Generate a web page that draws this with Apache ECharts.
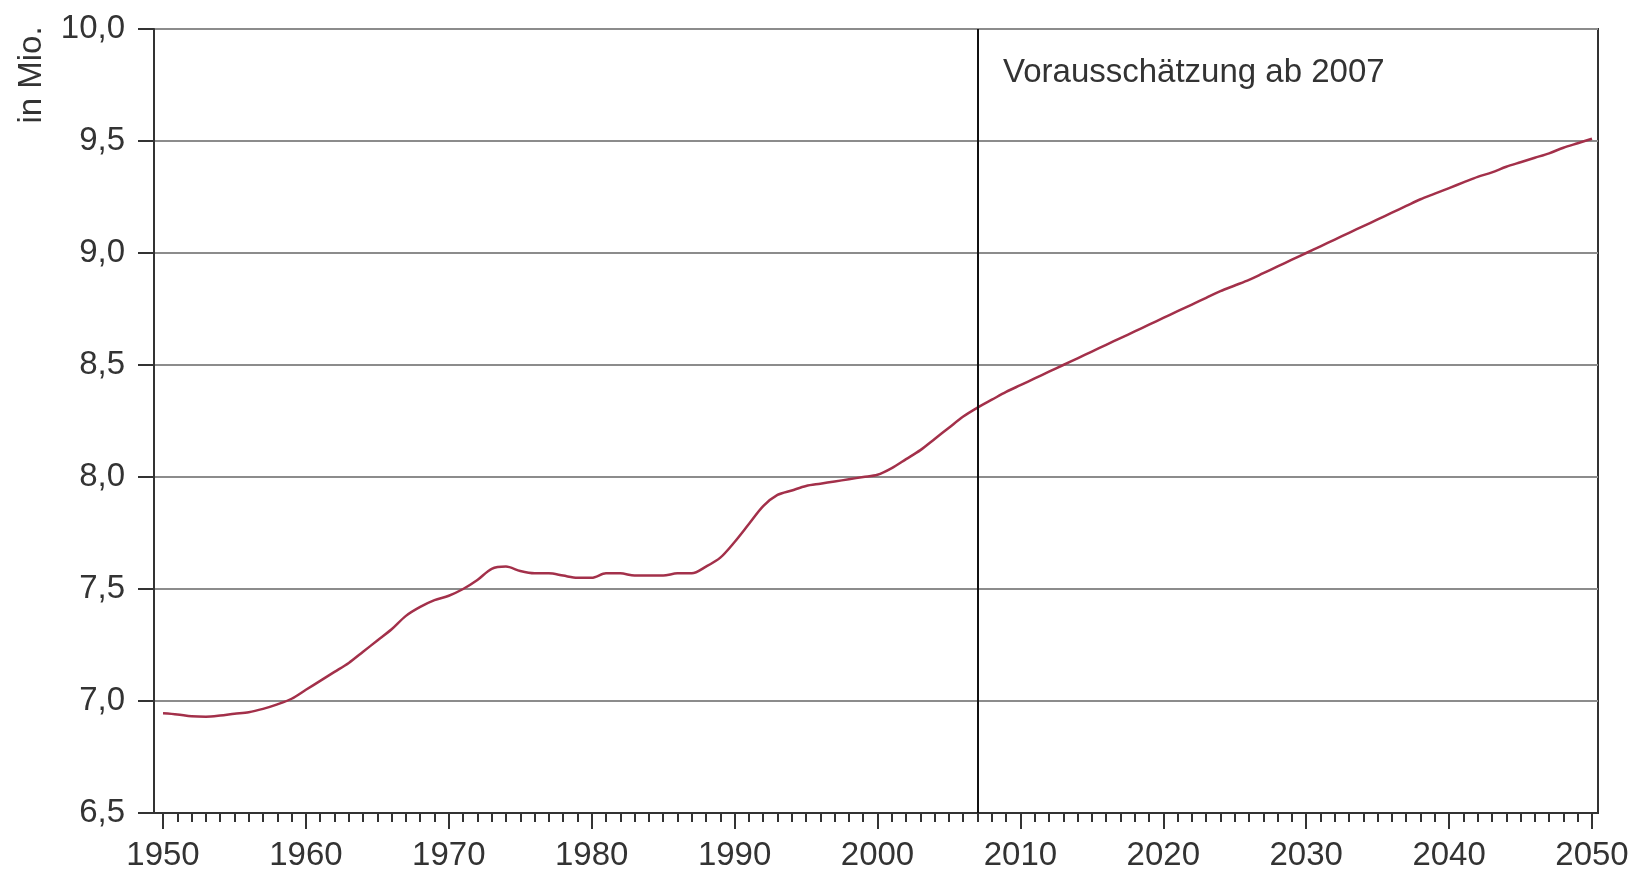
<!DOCTYPE html>
<html>
<head>
<meta charset="utf-8">
<script src="https://cdn.jsdelivr.net/npm/echarts@6/dist/echarts.min.js"></script>
<style>html,body{margin:0;padding:0;background:#fff}#c{width:1632px;height:870px}</style>
</head>
<body>
<div id="c"></div>
<script>
const startYear = 1950;
const endYear = 2050;
const population = [
  6.945, 6.94, 6.932, 6.93, 6.935, 6.943, 6.95, 6.965, 6.985, 7.01,
  7.05, 7.09, 7.13, 7.17, 7.22, 7.27, 7.32, 7.38, 7.42, 7.45,
  7.47, 7.50, 7.54, 7.59, 7.60, 7.58, 7.57, 7.57, 7.56, 7.55,
  7.55, 7.57, 7.57, 7.56, 7.56, 7.56, 7.57, 7.57, 7.60, 7.64,
  7.71, 7.79, 7.87, 7.92, 7.94, 7.96, 7.97, 7.98, 7.99, 8.00,
  8.01, 8.04, 8.08, 8.12, 8.17, 8.22, 8.27, 8.31, 8.345, 8.38,
  8.41, 8.44, 8.47, 8.50, 8.53, 8.56, 8.59, 8.62, 8.65, 8.68,
  8.71, 8.74, 8.77, 8.80, 8.83, 8.855, 8.88, 8.91, 8.94, 8.97,
  9.00, 9.03, 9.06, 9.09, 9.12, 9.15, 9.18, 9.21, 9.24, 9.265,
  9.29, 9.315, 9.34, 9.36, 9.385, 9.405, 9.425, 9.445, 9.47, 9.49,
  9.51
];
const years = [];
for (let y = startYear; y <= endYear; y++) years.push(y);
const xLabelYears = [1950, 1960, 1970, 1980, 1990, 2000, 2010, 2020, 2030, 2040, 2050];
const forecastStart = 2007;
const forecastLabel = 'Vorausschätzung ab 2007';
const yAxisName = 'in Mio.';

const FONT = 'Liberation Sans, Arial, sans-serif';
const FS = 33;
const chart = echarts.init(document.getElementById('c'), null, {renderer: 'canvas'});
const seriesData = years.map((y, i) => [y, population[i]]);
const xMin = 1949.37, xMax = 2050.42;

chart.setOption({
  animation: false,
  backgroundColor: '#fff',
  grid: {left: 154, right: 34, top: 29, bottom: 57, containLabel: false, outerBoundsMode: 'none',
    show: true, borderColor: '#333', borderWidth: 2, backgroundColor: 'transparent'},
  xAxis: [
    {
      type: 'value', min: xMin, max: xMax,
      axisLine: {show: true, lineStyle: {color: '#333', width: 2}},
      splitLine: {show: false},
      axisTick: {show: true, customValues: xLabelYears, length: 16, lineStyle: {color: '#333', width: 2}},
      axisLabel: {customValues: xLabelYears, fontSize: FS, color: '#333', margin: 26, fontFamily: FONT,
        formatter: v => String(Math.round(v))}
    },
    {
      type: 'value', min: xMin, max: xMax, position: 'bottom',
      axisLine: {show: false},
      splitLine: {show: false},
      axisTick: {show: true, customValues: years, length: 9, lineStyle: {color: '#333', width: 2}},
      axisLabel: {show: false}
    }
  ],
  yAxis: {
    type: 'value', min: 6.5, max: 10, interval: 0.5,
    axisLine: {show: true, lineStyle: {color: '#333', width: 2}},
    axisTick: {show: true, length: 16, lineStyle: {color: '#333', width: 2}},
    splitLine: {show: true, lineStyle: {color: '#8c8c8c', width: 2}},
    axisLabel: {fontSize: FS, color: '#333', margin: 29, fontFamily: FONT,
      formatter: v => v.toFixed(1).replace('.', ',')}
  },
  series: [{
    type: 'line',
    data: seriesData,
    showSymbol: false,
    smooth: 0.3,
    lineStyle: {color: '#a3304a', width: 2.5},
    markLine: {
      silent: true,
      symbol: 'none',
      label: {show: false},
      lineStyle: {color: '#111', width: 2, type: 'solid'},
      data: [{xAxis: forecastStart}]
    }
  }],
  graphic: [
    {type: 'text', x: 1003, y: 73, style: {text: forecastLabel, font: FS + 'px ' + FONT, fill: '#333', verticalAlign: 'middle', align: 'left'}},
    {type: 'text', x: 32, y: 75, rotation: Math.PI / 2, style: {text: yAxisName, font: FS + 'px ' + FONT, fill: '#333', verticalAlign: 'middle', align: 'center'}}
  ]
});
</script>
</body>
</html>
